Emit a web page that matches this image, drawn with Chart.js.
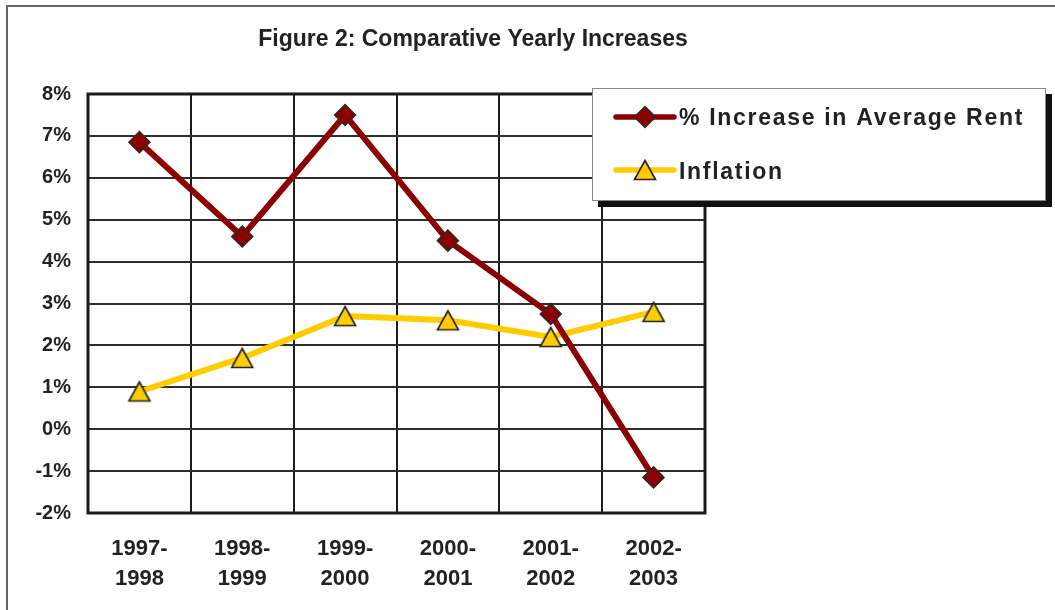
<!DOCTYPE html>
<html>
<head>
<meta charset="utf-8">
<script src="https://cdn.jsdelivr.net/npm/chart.js@4/dist/chart.umd.min.js"></script>
<style>
  html, body { margin: 0; padding: 0; background: #fff; overflow: hidden; }
  #wrap { position: relative; width: 1055px; height: 610px; }
</style>
</head>
<body>
<div id="wrap"><canvas id="c" width="1055" height="610"></canvas></div>
<script>
// Yearly periods and the two series (percent)
const categories = [['1997-', '1998'], ['1998-', '1999'], ['1999-', '2000'], ['2000-', '2001'], ['2001-', '2002'], ['2002-', '2003']];
const rentIncrease = [6.85, 4.6, 7.5, 4.5, 2.75, -1.15];
const inflation = [0.9, 1.7, 2.7, 2.6, 2.2, 2.8];
const yMin = -2;
const yMax = 8;
const yStep = 1;
const seriesNames = ['% Increase in Average Rent', 'Inflation'];
const titleText = 'Figure 2: Comparative Yearly Increases';

const FONT = '"Liberation Sans", Arial, sans-serif';
const TEXT = '#222222';
const RENT_COLOR = '#8B0000';
const INFL_COLOR = '#FFCC00';

// Triangle marker centred on its bounding box
function makeTriangle() {
  const cv = document.createElement('canvas');
  cv.width = 26; cv.height = 24;
  const t = cv.getContext('2d');
  t.beginPath();
  t.moveTo(13, 2.5);
  t.lineTo(23.5, 21.5);
  t.lineTo(2.5, 21.5);
  t.closePath();
  t.fillStyle = INFL_COLOR;
  t.fill();
  t.lineWidth = 1.6;
  t.strokeStyle = '#222';
  t.lineJoin = 'miter';
  t.stroke();
  return cv;
}
const triangle = makeTriangle();

const decorations = {
  id: 'decorations',
  beforeDraw(chart) {
    const ctx = chart.ctx;
    ctx.save();
    ctx.fillStyle = '#fff';
    ctx.fillRect(0, 0, chart.width, chart.height);
    // outer frame
    ctx.strokeStyle = '#666';
    ctx.lineWidth = 2;
    ctx.beginPath();
    ctx.moveTo(7, 612);
    ctx.lineTo(7, 6);
    ctx.lineTo(1060, 6);
    ctx.stroke();
    // title
    ctx.fillStyle = TEXT;
    ctx.font = 'bold 23px ' + FONT;
    ctx.textAlign = 'center';
    ctx.textBaseline = 'alphabetic';
    ctx.fillText(titleText, 473, 46);
    ctx.restore();
  },
  beforeDatasetsDraw(chart) {
    const a = chart.chartArea;
    const ctx = chart.ctx;
    ctx.save();
    ctx.strokeStyle = '#1a1a1a';
    ctx.lineWidth = 3;
    ctx.strokeRect(a.left, a.top, a.right - a.left, a.bottom - a.top);
    ctx.restore();
  },
  afterDraw(chart) {
    const ctx = chart.ctx;
    ctx.save();
    const bx = 592, by = 88, bw = 454, bh = 113;
    // legend shadow and box
    ctx.fillStyle = '#111';
    ctx.fillRect(bx + 6, by + 6, bw, bh);
    ctx.fillStyle = '#fff';
    ctx.fillRect(bx, by, bw, bh);
    ctx.strokeStyle = '#888';
    ctx.lineWidth = 1;
    ctx.strokeRect(bx + 0.5, by + 0.5, bw - 1, bh - 1);

    const rows = [
      { y: 117, base: 125, color: RENT_COLOR, label: seriesNames[0], marker: 'diamond' },
      { y: 170, base: 179, color: INFL_COLOR, label: seriesNames[1], marker: 'triangle' }
    ];
    rows.forEach(r => {
      ctx.strokeStyle = r.color;
      ctx.lineWidth = 5.5;
      ctx.lineCap = 'round';
      ctx.beginPath();
      ctx.moveTo(616, r.y);
      ctx.lineTo(674, r.y);
      ctx.stroke();
      if (r.marker === 'diamond') {
        ctx.beginPath();
        ctx.moveTo(645, r.y - 10.5);
        ctx.lineTo(655.5, r.y);
        ctx.lineTo(645, r.y + 10.5);
        ctx.lineTo(634.5, r.y);
        ctx.closePath();
        ctx.fillStyle = RENT_COLOR;
        ctx.fill();
        ctx.lineWidth = 1.5;
        ctx.strokeStyle = '#2a2a2a';
        ctx.stroke();
      } else {
        ctx.drawImage(triangle, 645 - 13, r.y - 12);
      }
      ctx.fillStyle = TEXT;
      ctx.font = 'bold 23px ' + FONT;
      ctx.letterSpacing = '1.7px';
      ctx.textAlign = 'left';
      ctx.textBaseline = 'alphabetic';
      ctx.fillText(r.label, 679, r.base);
    });
    ctx.restore();
  }
};

new Chart(document.getElementById('c'), {
  type: 'line',
  data: {
    labels: categories,
    datasets: [
      {
        label: seriesNames[0],
        data: rentIncrease,
        borderColor: RENT_COLOR,
        borderWidth: 6,
        backgroundColor: RENT_COLOR,
        pointStyle: 'rectRot',
        pointRadius: 10.5,
        pointHoverRadius: 10.5,
        pointBackgroundColor: RENT_COLOR,
        pointBorderColor: '#2a2a2a',
        pointBorderWidth: 1.5,
        tension: 0,
        fill: false
      },
      {
        label: seriesNames[1],
        data: inflation,
        borderColor: INFL_COLOR,
        borderWidth: 6,
        backgroundColor: INFL_COLOR,
        pointStyle: triangle,
        pointRadius: 12,
        tension: 0,
        fill: false
      }
    ]
  },
  options: {
    responsive: false,
    animation: false,
    devicePixelRatio: 1,
    layout: { padding: { top: 94, right: 350, bottom: 0, left: 0 } },
    plugins: {
      legend: { display: false },
      title: { display: false },
      tooltip: { enabled: false }
    },
    events: [],
    scales: {
      x: {
        type: 'category',
        offset: true,
        grid: { offset: true, color: '#1c1c1c', lineWidth: 2, drawTicks: false },
        border: { display: false },
        ticks: {
          color: TEXT,
          font: { family: FONT, size: 22, weight: 'bold', lineHeight: 1.36 },
          padding: 21,
          maxRotation: 0,
          autoSkip: false
        },
        afterFit(scale) { scale.height = 97; }
      },
      y: {
        min: yMin,
        max: yMax,
        grid: { color: '#2e2e2e', lineWidth: 2, drawTicks: false },
        border: { display: false },
        ticks: {
          stepSize: yStep,
          color: TEXT,
          font: { family: FONT, size: 20, weight: 'bold' },
          padding: 17,
          callback: v => v + '%'
        },
        afterFit(scale) { scale.width = 88; }
      }
    }
  },
  plugins: [decorations]
});
</script>
</body>
</html>
